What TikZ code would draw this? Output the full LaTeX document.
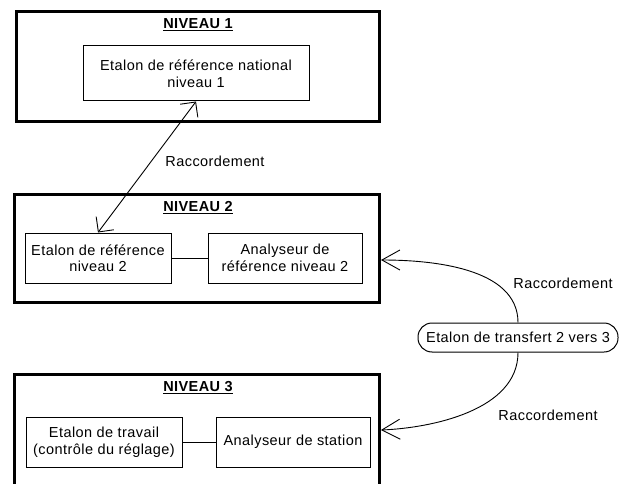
\documentclass[tikz,border=0pt]{standalone}
\usepackage{fontspec}
\setmainfont{Liberation Sans}[LetterSpace=3]
\usetikzlibrary{arrows.meta}
\begin{document}
\begin{tikzpicture}[x=1pt,y=-1pt,
  font=\fontsize{14.5}{16.5}\selectfont,
  outer/.style={draw, line width=3pt, inner sep=0pt},
  inbox/.style={draw, line width=1pt, align=center, inner sep=0pt, minimum height=50pt},
  title/.style={font=\fontsize{14.5}{16.5}\selectfont\bfseries, inner sep=0pt},
  link/.style={line width=0.9pt},
  twotips/.style={{Straight Barb[length=11pt,width=22pt]}-{Straight Barb[length=11pt,width=22pt]}},
  curvetip/.style={-{Straight Barb[length=18pt,width=20pt]}}]
\useasboundingbox (0,0) rectangle (621,484);
\clip (0,0) rectangle (621,484);
% level 1
\node[outer, minimum width=363pt, minimum height=110pt] (lvl1) at (198,66.5) {};
\node[title] (t1) at (198,25) {\underline{NIVEAU 1}};
\node[inbox, minimum width=226pt, minimum height=55pt] (n1) at (196,73.5) {Etalon de référence national\\niveau 1};
% level 2
\node[outer, minimum width=365pt, minimum height=107.5pt] (lvl2) at (197,248.25) {};
\node[title] (t2) at (198,208) {\underline{NIVEAU 2}};
\node[inbox, minimum width=146pt] (a2) at (98,258) {Etalon de référence\\niveau 2};
\node[inbox, minimum width=154pt] (b2) at (285,258) {Analyseur de\\référence niveau 2};
% level 3
\node[outer, minimum width=365pt, minimum height=135pt] (lvl3) at (197,442) {};
\node[title] (t3) at (198,388) {\underline{NIVEAU 3}};
\node[inbox, minimum width=156pt] (a3) at (104,442) {Etalon de travail\\(contrôle du réglage)};
\node[inbox, minimum width=154pt] (b3) at (293,442) {Analyseur de station};
% transfer
\node[draw, line width=1pt, rounded corners=14pt, minimum width=200pt, minimum height=29pt, inner sep=0pt] (tr) at (518,337.5) {Etalon de transfert 2 vers 3};
% labels
\node (r1) at (215,161) {Raccordement};
\node (r2) at (563,283) {Raccordement};
\node (r3) at (548,415) {Raccordement};
% endpoints on outer boxes
\coordinate (e2) at ([yshift=-11.75pt]lvl2.east);
\coordinate (e3) at ([yshift=12pt]lvl3.east);
% connectors
\draw[link] (a2) -- (b2);
\draw[link] (a3) -- (b3);
\draw[link, twotips] (a2.north) -- (n1.south);
\draw[link, curvetip] (tr.north) .. controls +(0,-55) and +(50,0) .. (e2);
\draw[link, curvetip] (tr.south) .. controls +(0,58) and +(50,-2) .. (e3);
\end{tikzpicture}
\end{document}
